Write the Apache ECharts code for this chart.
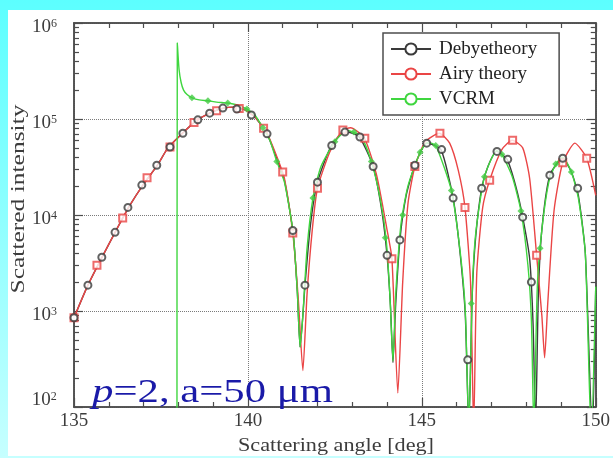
<!DOCTYPE html>
<html>
<head>
<meta charset="utf-8">
<script src="https://cdn.jsdelivr.net/npm/echarts@6/dist/echarts.min.js"></script>
<style>
html,body{margin:0;padding:0;width:613px;height:458px;overflow:hidden;background:linear-gradient(#5cffff,#c6ffff);}
#panel{position:absolute;left:8px;top:10px;width:605px;height:446px;background:#fff;z-index:0;}
#c{position:absolute;left:0;top:0;width:613px;height:458px;z-index:1;}
</style>
</head>
<body>
<div id="panel"></div>
<div id="c"></div>
<script>
// ---------- data ----------
const seriesNames = ['Debyetheory', 'Airy theory', 'VCRM'];

const xTicks = [135, 140, 145, 150];
const yTicks = [100, 1000, 10000, 100000, 1000000];

// Debye theory curve
const debyeX = [135.0,135.4,135.8,136.2,136.6,137.0,137.4,137.7,138.1,138.5,138.9,139.3,139.6,139.9,140.2,140.55,140.85,141.05,141.3,141.42,141.5,141.58,141.64,141.8,142.0,142.4,142.8,143.2,143.6,143.85,144.0,144.1,144.17,144.25,144.37,144.55,144.8,145.15,145.55,145.9,146.1,146.25,146.35,146.45,146.55,146.72,146.9,147.15,147.45,147.7,147.9,148.1,148.2,148.27,148.35,148.45,148.68,149.05,149.3,149.5,149.7,149.9,150.0];
const debyeY = [850,1860,3600,6800,12500,21000,33000,50000,70000,95000,115000,130000,133000,125000,105000,70000,37000,23000,6500,1600,420,900,1860,8000,22000,53000,74000,65000,32000,11000,3800,1100,290,1200,5500,16000,33000,56000,48000,15000,4000,900,60,1500,6000,19000,32000,46000,38000,20000,9500,3500,700,60,1500,7000,26000,39000,28000,16000,4000,50,1800];
// Debye markers
const debyeMX = [135.0,135.4,135.8,136.18,136.55,136.95,137.38,137.76,138.13,138.56,138.9,139.28,139.68,140.1,140.55,141.29,141.64,142.0,142.41,142.79,143.22,143.6,144.0,144.37,144.8,145.14,145.57,145.9,146.32,146.72,147.16,147.47,147.9,148.15,148.68,149.05,149.48];
const debyeMY = [850,1860,3630,6600,12000,20500,33000,51000,71000,98000,115000,130000,127000,110000,70000,6900,1860,22000,53000,73000,65000,32000,3800,5500,33000,56000,48000,15000,310,19000,46000,38000,9500,2000,26000,39000,19000];

// Airy theory curve
const airyX = [135.0,135.4,135.8,136.2,136.6,137.0,137.4,137.7,138.1,138.5,138.9,139.3,139.6,139.9,140.2,140.55,140.85,141.05,141.3,141.45,141.58,141.7,141.85,142.0,142.35,142.7,142.95,143.35,143.7,144.0,144.14,144.31,144.45,144.6,144.8,145.1,145.5,145.8,146.05,146.24,146.4,146.49,146.58,146.75,146.95,147.3,147.6,147.9,148.1,148.3,148.45,148.53,148.62,148.8,149.05,149.4,149.74,150.0];
const airyY = [850,1860,3600,6800,12500,21000,33000,50000,70000,95000,115000,130000,133000,125000,105000,71000,39000,24000,6000,1300,240,1500,7000,19000,45000,75000,81000,63000,26000,7000,3500,140,2000,13000,32000,58000,71000,56000,29000,12000,2000,60,2500,12000,23000,48000,60000,50000,24000,3800,900,325,1200,11000,35000,56000,39000,16000];
// Airy markers
const airyMX = [135.0,135.66,136.4,137.1,137.76,138.45,139.1,139.75,140.45,141.0,141.29,142.0,142.73,143.36,144.14,144.8,145.52,146.24,146.95,147.61,148.3,149.05,149.74];
const airyMY = [850,3000,9300,24500,51000,92000,122000,129000,80000,28000,6500,19000,77000,63000,3500,32000,71000,12000,23000,60000,3800,35000,39000];

// VCRM curve
const vcrmX = [137.96,137.97,138.02,138.08,138.15,138.25,138.4,138.6,138.85,139.1,139.42,139.7,139.97,140.2,140.43,140.63,140.83,141.05,141.3,141.42,141.5,141.58,141.7,141.87,142.1,142.5,142.85,143.25,143.55,143.8,143.97,144.08,144.17,144.25,144.4,144.6,144.95,145.17,145.4,145.85,146.1,146.25,146.35,146.45,146.55,146.8,147.16,147.3,147.6,147.85,148.05,148.15,148.22,148.32,148.45,148.65,148.85,149.05,149.3,149.5,149.7,149.87,150.0];
const vcrmY = [10,620000,330000,240000,200000,180000,166000,158000,155000,150000,147000,140000,127000,110000,81000,60000,36000,22000,6500,1600,420,900,4500,15000,32000,58000,76000,66000,36000,15000,5800,1500,300,1500,8000,20000,45000,57000,53000,18000,4200,1000,60,1600,6500,25000,47000,43000,25000,11000,3000,800,60,1800,7000,22000,34000,40000,28000,15000,4000,50,1800];
// VCRM markers
const vcrmMX = [138.39,138.85,139.42,139.97,140.43,140.83,141.87,142.5,143.05,143.55,143.95,144.45,144.95,145.4,145.85,146.42,146.8,147.3,147.85,148.4,148.85,149.3];
const vcrmMY = [166000,155000,147000,127000,81000,36000,15000,58000,73000,36000,5800,10000,45000,53000,18000,1200,25000,43000,11000,4500,34000,28000];

const xTitle = 'Scattering angle [deg]';
const yTitle = 'Scattered intensity';
const annItalic = 'p';
const annRest = '=2, a=50 μm';

// ---------- helpers ----------
const pair = (xs, ys) => xs.map((x, i) => [x, ys[i]]);
const serif = '"Liberation Serif", "Times New Roman", serif';
const mctx = document.createElement('canvas').getContext('2d');
function measure(t, f) { mctx.font = f; return mctx.measureText(t).width; }

// minor tick positions
const xMinor = [];
for (let v = xTicks[0]; v <= xTicks[xTicks.length - 1]; v++) if (v % 5 !== 0) xMinor.push(v);
const yMinorLog = [];
for (let i = 0; i < yTicks.length - 1; i++) {
  for (let k = 2; k <= 9; k++) yMinorLog.push(Math.log10(k * yTicks[i]));
}

const frameColor = '#4d4d4d';
const labelColor = '#3c3c3c';
const cBlack = '#3a3a3a', cRed = '#ea4545', cGreen = '#3fd63f';
const tickStyle = { color: frameColor, width: 1.2, type: 'solid' };
const lineStyleFrame = { color: frameColor, width: 1.5, type: 'solid' };
const gridLineStyle = { color: '#7a7a7a', type: 'dotted', width: 1 };
const hiddenLabel = { show: false };

const titleFont = '18px ' + serif;
const xTitleScale = 196 / measure(xTitle, titleFont);
const yTitleScale = 189 / measure(yTitle, titleFont);

const annSize = 34;
const pFont = 'italic ' + annSize + 'px ' + serif;
const rFont = annSize + 'px ' + serif;
const wP = measure(annItalic, pFont);
const wR = measure(annRest, rFont);
const annScale = 241 / (wP + wR);

const chart = echarts.init(document.getElementById('c'), null, { renderer: 'canvas' });

const lineSeries = (name, xs, ys, color, symbol, z) => ({
  name, type: 'line', data: pair(xs, ys), xAxisIndex: 0, yAxisIndex: 0,
  showSymbol: false, symbol, symbolSize: 7, smooth: 0.2, clip: true,
  lineStyle: { color, width: 1.4 }, itemStyle: { color }, z
});
const markSeries = (name, xs, ys, color, symbol, z) => ({
  name, type: 'scatter', data: pair(xs, ys), xAxisIndex: 0, yAxisIndex: 0,
  symbol, symbolSize: 7, clip: true,
  itemStyle: { color, borderWidth: 1.2 }, z
});

// ticks point into the plot: drawn on the outer side with a negative length
const majorX = (position, showLabel) => ({
  type: 'value', min: xTicks[0], max: xTicks[xTicks.length - 1], interval: 5, position,
  axisLine: { show: true, onZero: false, lineStyle: lineStyleFrame },
  axisTick: { show: true, inside: false, length: -9, lineStyle: tickStyle },
  axisLabel: showLabel ? { show: true, margin: 5, fontFamily: serif, fontSize: 19, color: labelColor } : hiddenLabel,
  splitLine: showLabel ? { show: true, lineStyle: gridLineStyle } : { show: false }
});
const minorX = (position) => ({
  type: 'value', min: xTicks[0], max: xTicks[xTicks.length - 1], position,
  axisLine: { show: true, onZero: false, lineStyle: lineStyleFrame },
  axisTick: { show: true, inside: false, length: -5, customValues: xMinor, lineStyle: tickStyle },
  axisLabel: hiddenLabel, splitLine: { show: false }
});
const minorY = (position) => ({
  type: 'value', min: 2, max: 6, position,
  axisLine: { show: true, onZero: false, lineStyle: lineStyleFrame },
  axisTick: { show: true, inside: false, length: -5, customValues: yMinorLog, lineStyle: tickStyle },
  axisLabel: hiddenLabel, splitLine: { show: false }
});

const option = {
  backgroundColor: 'transparent',
  animation: false,
  grid: { left: 74, top: 23, width: 522, height: 384 },
  legend: {
    data: seriesNames,
    orient: 'vertical', left: 383, top: 33,
    itemWidth: 40, itemHeight: 14, itemGap: 5,
    padding: [6, 22, 6, 7],
    borderColor: frameColor, borderWidth: 1.5, backgroundColor: '#fff',
    textStyle: { fontFamily: serif, fontSize: 19, color: '#222', lineHeight: 20, padding: [0, 0, 0, 3] }
  },
  xAxis: [majorX('bottom', true), majorX('top', false), minorX('bottom'), minorX('top')],
  yAxis: [
    {
      type: 'log', logBase: 10, min: yTicks[0], max: yTicks[yTicks.length - 1], position: 'left',
      axisLine: { show: true, onZero: false, lineStyle: lineStyleFrame },
      axisTick: { show: true, inside: false, length: -9, lineStyle: tickStyle },
      splitLine: { show: true, lineStyle: gridLineStyle },
      axisLabel: {
        show: true, margin: 17, padding: [8, 0, 0, 0],
        formatter: v => {
          const e = Math.round(Math.log10(v));
          return e === 2 ? '{b2|10}{s|' + e + '}{g| }' : '{b|10}{s|' + e + '}';
        },
        rich: {
          b: { fontFamily: serif, fontSize: 19, color: labelColor, lineHeight: 19, verticalAlign: 'bottom' },
          b2: { fontFamily: serif, fontSize: 19, color: labelColor, lineHeight: 19, verticalAlign: 'top' },
          s: { fontFamily: serif, fontSize: 12, color: labelColor, lineHeight: 12, verticalAlign: 'top' },
          g: { fontSize: 1, lineHeight: 41 }
        }
      }
    },
    minorY('left'),
    {
      type: 'log', logBase: 10, min: yTicks[0], max: yTicks[yTicks.length - 1], position: 'right',
      axisLine: { show: true, onZero: false, lineStyle: lineStyleFrame },
      axisTick: { show: true, inside: false, length: -9, lineStyle: tickStyle },
      axisLabel: hiddenLabel, splitLine: { show: false }
    },
    minorY('right')
  ],
  series: [
    lineSeries(seriesNames[0], debyeX, debyeY, cBlack, 'emptyCircle', 2),
    lineSeries(seriesNames[1], airyX, airyY, cRed, 'emptyCircle', 3),
    lineSeries(seriesNames[2], vcrmX, vcrmY, cGreen, 'emptyCircle', 4),
    markSeries('Airy markers', airyMX, airyMY, cRed, 'emptyRect', 5),
    markSeries('VCRM markers', vcrmMX, vcrmMY, '#45cc45', 'diamond', 5),
    markSeries('Debye markers', debyeMX, debyeMY, cBlack, 'emptyCircle', 6)
  ],
  graphic: [
    { type: 'text', silent: true, z: 10, x: 336, y: 446, scaleX: xTitleScale,
      style: { text: xTitle, font: titleFont, fill: labelColor, align: 'center', verticalAlign: 'middle' } },
    { type: 'text', silent: true, z: 10, x: 19, y: 199, rotation: Math.PI / 2, scaleX: yTitleScale,
      style: { text: yTitle, font: titleFont, fill: labelColor, align: 'center', verticalAlign: 'middle' } },
    { type: 'group', silent: true, z: 20, x: 92, y: 393, scaleX: annScale, children: [
      { type: 'text', z: 20, x: 0, y: 0, style: { text: annItalic, font: pFont, fill: '#1a1aa8', align: 'left', verticalAlign: 'middle' } },
      { type: 'text', z: 20, x: wP, y: 0, style: { text: annRest, font: rFont, fill: '#1a1aa8', align: 'left', verticalAlign: 'middle' } }
    ] }
  ]
};
chart.setOption(option);
</script>
</body>
</html>
